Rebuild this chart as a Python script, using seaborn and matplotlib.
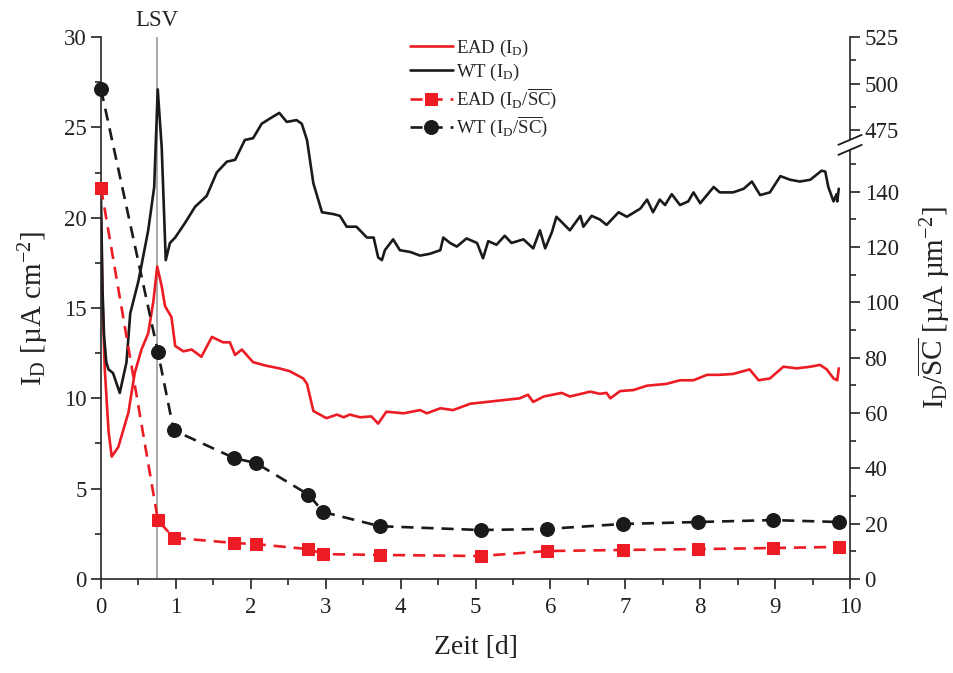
import numpy as np
import matplotlib
matplotlib.use('Agg')
import matplotlib.pyplot as plt
import seaborn as sns
from matplotlib.ticker import MultipleLocator, FixedLocator
from matplotlib.patches import Polygon

# ---------------- data ----------------
# continuous current density I_D [µA cm^-2] (left axis)
ead_t = [0.0, 0.02, 0.05, 0.10, 0.143, 0.23, 0.365, 0.45, 0.54, 0.63,
         0.70, 0.75, 0.81, 0.855, 0.94, 0.99, 1.10, 1.21, 1.34, 1.48,
         1.63, 1.72, 1.79, 1.88, 2.03, 2.21, 2.39, 2.52, 2.70, 2.75,
         2.835, 3.01, 3.15, 3.24, 3.32, 3.46, 3.61, 3.70, 3.81, 4.04,
         4.26, 4.35, 4.53, 4.70, 4.93, 5.15, 5.37, 5.59, 5.70, 5.77,
         5.91, 6.15, 6.26, 6.53, 6.66, 6.75, 6.80, 6.93, 7.11, 7.29,
         7.55, 7.73, 7.91, 8.09, 8.26, 8.44, 8.66, 8.78, 8.93, 9.11,
         9.29, 9.47, 9.60, 9.69, 9.78, 9.83, 9.85]
ead_id = [20.0, 15.5, 11.6, 8.2, 6.77, 7.3, 9.2, 11.4, 12.7, 13.6,
          15.4, 17.3, 16.2, 15.1, 14.5, 12.9, 12.6, 12.7, 12.3, 13.4,
          13.1, 13.1, 12.4, 12.7, 12.0, 11.8, 11.65, 11.5, 11.1, 10.8,
          9.3, 8.9, 9.1, 8.95, 9.1, 8.95, 9.0, 8.6, 9.26, 9.17,
          9.35, 9.17, 9.45, 9.35, 9.7, 9.8, 9.9, 10.0, 10.2, 9.8,
          10.1, 10.3, 10.1, 10.37, 10.25, 10.3, 10.0, 10.4, 10.46, 10.7,
          10.8, 11.0, 11.0, 11.3, 11.3, 11.35, 11.6, 11.0, 11.1, 11.75,
          11.66, 11.75, 11.85, 11.6, 11.1, 11.0, 11.66]

wt_t = [0.0, 0.02, 0.04, 0.07, 0.10, 0.16, 0.25, 0.34, 0.39, 0.50,
        0.63, 0.71, 0.757, 0.81, 0.864, 0.92, 0.99, 1.12, 1.255, 1.41,
        1.545, 1.68, 1.79, 1.92, 2.03, 2.145, 2.26, 2.38, 2.48, 2.61,
        2.68, 2.75, 2.835, 2.95, 3.10, 3.19, 3.28, 3.41, 3.55, 3.64,
        3.70, 3.75, 3.79, 3.90, 3.99, 4.13, 4.26, 4.39, 4.53, 4.57,
        4.66, 4.75, 4.88, 5.02, 5.10, 5.17, 5.28, 5.39, 5.48, 5.64,
        5.77, 5.86, 5.93, 6.02, 6.08, 6.26, 6.40, 6.44, 6.55, 6.66,
        6.75, 6.91, 7.02, 7.20, 7.29, 7.37, 7.46, 7.53, 7.62, 7.73,
        7.84, 7.91, 8.00, 8.18, 8.26, 8.44, 8.58, 8.69, 8.80, 8.93,
        9.07, 9.20, 9.33, 9.47, 9.62, 9.67, 9.71, 9.78, 9.82, 9.83,
        9.85]
wt_id = [21.0, 16.0, 13.5, 12.0, 11.6, 11.4, 10.3, 12.0, 14.7, 16.5,
         19.3, 21.7, 27.1, 23.9, 17.65, 18.6, 18.9, 19.7, 20.6, 21.2,
         22.5, 23.1, 23.2, 24.3, 24.4, 25.2, 25.5, 25.8, 25.3, 25.4,
         25.2, 24.3, 21.9, 20.3, 20.2, 20.1, 19.5, 19.5, 18.9, 18.9,
         17.8, 17.65, 18.2, 18.8, 18.2, 18.1, 17.9, 18.0, 18.2, 18.9,
         18.6, 18.4, 18.85, 18.6, 17.75, 18.7, 18.5, 19.0, 18.6, 18.8,
         18.3, 19.3, 18.3, 19.2, 20.05, 19.3, 20.1, 19.5, 20.1, 19.9,
         19.6, 20.3, 20.05, 20.5, 21.0, 20.3, 21.0, 20.7, 21.3, 20.7,
         20.9, 21.4, 20.8, 21.7, 21.4, 21.4, 21.6, 22.0, 21.25, 21.4,
         22.3, 22.1, 22.0, 22.1, 22.6, 22.55, 21.7, 20.9, 21.3, 20.9,
         21.6]

# I_D / mean SC [µA µm^-2] (right axis, broken)
sc_t = [0.0, 0.76, 0.97, 1.78, 2.07, 2.77, 2.97, 3.72, 5.07, 5.95, 6.97, 7.97, 8.97, 9.85]
ead_sc = [141.5, 21.2, 14.9, 13.0, 12.6, 10.8, 9.0, 8.7, 8.3, 10.1, 10.5, 10.8, 11.2, 11.6]
wt_sc = [497.0, 82.0, 53.8, 43.7, 41.9, 30.5, 24.2, 19.1, 17.7, 18.1, 19.9, 20.6, 21.3, 20.6]

lsv_t = 0.75

x_ticks = list(range(0, 11))
left_ticks = [0, 5, 10, 15, 20, 25, 30]
right_ticks = [0, 20, 40, 60, 80, 100, 120, 140, 475, 500, 525]
right_minor = [10, 30, 50, 70, 90, 110, 130, 150, 487.5, 512.5]

RED = '#ED1C24'
BLACK = '#1A1A1A'

# ---------------- style ----------------
sns.set_theme(style='ticks')
plt.rcParams['font.family'] = ['Liberation Serif', 'DejaVu Serif']
plt.rcParams['mathtext.fontset'] = 'custom'
plt.rcParams['mathtext.rm'] = 'Liberation Serif'
plt.rcParams['mathtext.it'] = 'Liberation Serif:italic'
plt.rcParams['mathtext.bf'] = 'Liberation Serif:bold'
plt.rcParams['axes.linewidth'] = 1.2
plt.rcParams['axes.unicode_minus'] = False

fig = plt.figure(figsize=(9.54, 6.73), dpi=100)
ax = fig.add_axes([0.1059, 0.1397, 0.7851, 0.8053])
ax2 = ax.twinx()

# broken right scale (piecewise linear, mapped onto left-axis units 0..30)
LO_END, HI_START = 155.0, 470.0
K_LO = 0.15307
L_LO_END = LO_END * K_LO
L_HI_START = 24.335
K_HI = 0.103
K_MID = (L_HI_START - L_LO_END) / (HI_START - LO_END)


def fwd(v):
    v = np.asarray(v, dtype=float)
    return np.where(v <= LO_END, v * K_LO,
                    np.where(v >= HI_START, L_HI_START + (v - HI_START) * K_HI,
                             L_LO_END + (v - LO_END) * K_MID))


def inv(L):
    L = np.asarray(L, dtype=float)
    return np.where(L <= L_LO_END, L / K_LO,
                    np.where(L >= L_HI_START, HI_START + (L - L_HI_START) / K_HI,
                             LO_END + (L - L_LO_END) / K_MID))


ax2.set_yscale('function', functions=(fwd, inv))

LW = 1.9
DASH = (0, (4.6, 3.0))

sns.lineplot(x=ead_t, y=ead_id, ax=ax, color=RED, lw=LW, estimator=None,
             sort=False, legend=False)
h_ead = ax.lines[-1]
sns.lineplot(x=wt_t, y=wt_id, ax=ax, color=BLACK, lw=LW, estimator=None,
             sort=False, legend=False)
h_wt = ax.lines[-1]
ax.axvline(lsv_t, color='#9A9A9A', lw=1.2, zorder=0)

sns.lineplot(x=sc_t, y=ead_sc, ax=ax2, color=RED, lw=LW, estimator=None,
             sort=False, legend=False, linestyle=DASH, marker='s', markersize=9,
             markeredgecolor=RED, markerfacecolor=RED, clip_on=False)
h_ead_sc = ax2.lines[-1]
sns.lineplot(x=sc_t, y=wt_sc, ax=ax2, color=BLACK, lw=LW, estimator=None,
             sort=False, legend=False, linestyle=DASH, marker='o', markersize=10,
             markeredgecolor=BLACK, markerfacecolor=BLACK, clip_on=False)
h_wt_sc = ax2.lines[-1]

# ---------------- axes ----------------
ax.set_xlim(0, 10)
ax.set_ylim(0, 30)
ax2.set_ylim(0, 525)

ax.xaxis.set_major_locator(FixedLocator(x_ticks))
ax.xaxis.set_minor_locator(MultipleLocator(0.5))
ax.yaxis.set_major_locator(FixedLocator(left_ticks))
ax.yaxis.set_minor_locator(MultipleLocator(2.5))
ax2.yaxis.set_major_locator(FixedLocator(right_ticks))
ax2.yaxis.set_minor_locator(FixedLocator(right_minor))
ax2.set_yticklabels([str(t) for t in right_ticks])

for a in (ax, ax2):
    a.spines['top'].set_visible(False)
    a.tick_params(which='major', direction='out', length=7, width=1.2,
                  labelsize=16.5, colors='#222222', labelcolor='#222222')
    a.tick_params(which='minor', direction='out', length=4, width=1.2)
ax.spines['right'].set_visible(False)
ax2.spines['left'].set_visible(False)
ax2.spines['bottom'].set_visible(False)
ax.tick_params(axis='y', which='both', left=True, right=False)
ax2.tick_params(axis='y', which='both', left=False, right=True)
ax.tick_params(axis='x', which='both', top=False, pad=6)

ax.set_xlabel('Zeit [d]', fontsize=20, labelpad=12, color='#222222')
ax.set_ylabel(r'I$_\mathrm{D}$ [µA cm$^{-2}$]', fontsize=21, labelpad=9,
              color='#222222')
ax2.set_ylabel(r'I$_\mathrm{D}$/$\overline{\mathrm{SC}}$ [µA µm$^{-2}$]',
               fontsize=21, labelpad=12, color='#222222')

ax.text(lsv_t, 1.012, 'LSV', transform=ax.get_xaxis_transform(), ha='center',
        va='bottom', fontsize=16.5, color='#222222')

# axis break marks on the right spine
tr = ax2.transAxes
yb = 0.801
dx, dy, gap = 0.0156, 0.0092, 0.0185
gap_poly = Polygon([(1 - dx, yb - dy - gap / 2), (1 + dx, yb + dy - gap / 2),
                    (1 + dx, yb + dy + gap / 2), (1 - dx, yb - dy + gap / 2)],
                   closed=True, transform=tr, facecolor='white', edgecolor='none',
                   clip_on=False, zorder=5)
ax2.add_patch(gap_poly)
for off in (-gap / 2, gap / 2):
    ax2.plot([1 - dx, 1 + dx], [yb - dy + off, yb + dy + off], transform=tr,
             color=BLACK, lw=1.3, clip_on=False, zorder=6)

leg = ax2.legend([h_ead, h_wt, h_ead_sc, h_wt_sc],
                 [r'EAD (I$_\mathrm{D}$)', r'WT (I$_\mathrm{D}$)',
                  r'EAD (I$_\mathrm{D}$/$\overline{\mathrm{SC}}$)',
                  r'WT (I$_\mathrm{D}$/$\overline{\mathrm{SC}}$)'],
                 loc='upper left', bbox_to_anchor=(0.402, 1.013), frameon=False,
                 fontsize=13.5, handlelength=2.3, handletextpad=0.15,
                 labelspacing=0.18, numpoints=1, borderaxespad=0)

fig.savefig('out.png', dpi=100)
